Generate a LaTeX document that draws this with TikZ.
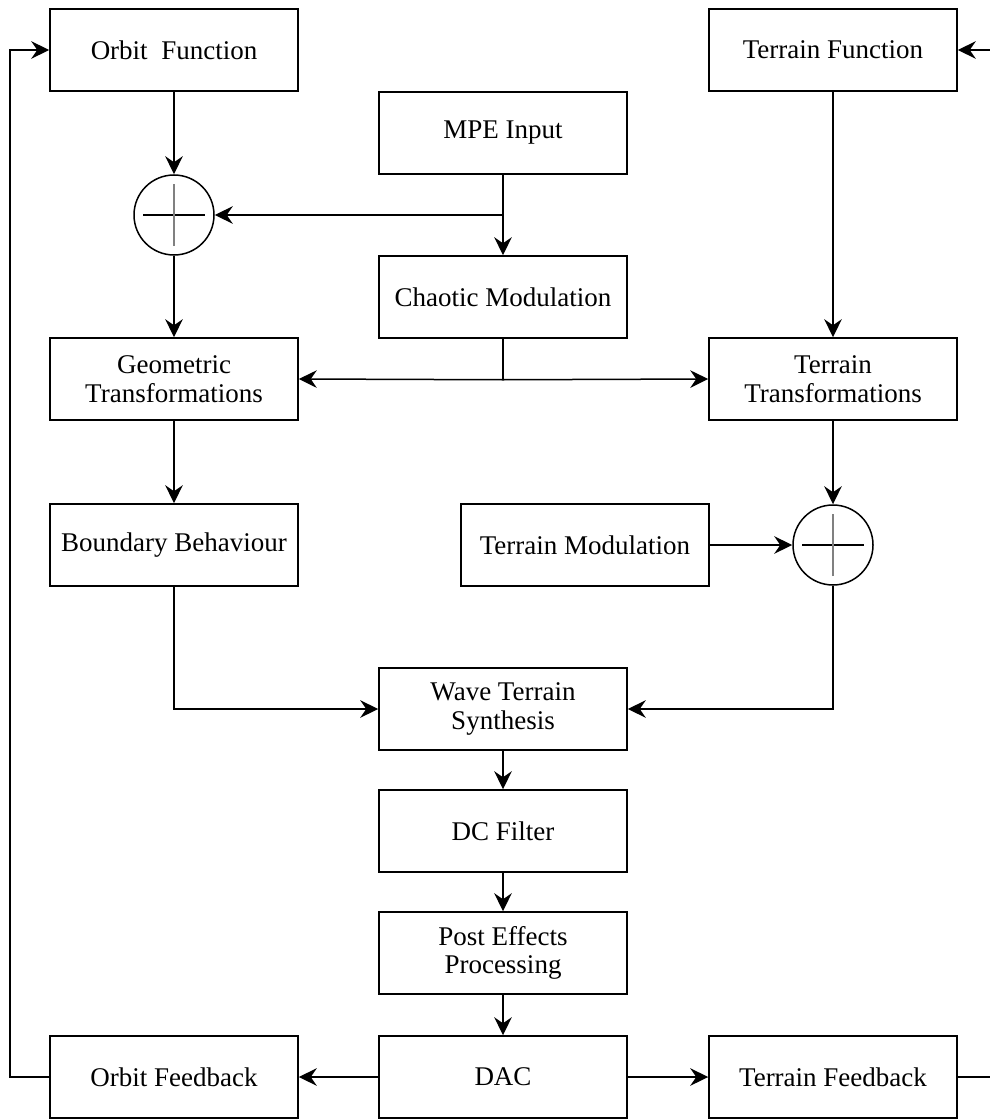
\documentclass[tikz,border=0pt]{standalone}
\usepackage{fontspec}
\setmainfont{Liberation Serif}
\usetikzlibrary{arrows.meta}

\begin{document}
\begin{tikzpicture}[x=0.4pt, y=-0.4pt,
    >={Stealth[length=7.2pt,width=7pt,inset=2.4pt]},
    every path/.style={line width=0.6pt},
    block/.style={draw, rectangle, minimum width=99.2pt, minimum height=32.8pt,
      inner sep=0pt, align=center, font=\fontsize{10.8pt}{11.4pt}\selectfont},
    sumnode/.style={draw, circle, minimum size=32pt, inner sep=0pt}]
  \useasboundingbox (0,0) rectangle (990,1119);

  % top row
  \node [block] (orbit)   at (174,50)  {Orbit\ \ Function};
  \node [block] (terrfn)  at (833,50)  {Terrain Function};
  \node [block] (mpe)     at (503,133) {MPE Input};
  \node [sumnode] (sumL)  at (174,215) {};
  \node [block] (chaotic) at (503,297) {Chaotic Modulation};

  % transformations
  \node [block] (geom)    at (174,379) {Geometric\\Transformations};
  \node [block] (ttrans)  at (833,379) {Terrain\\Transformations};
  \node [block] (boundary) at (174,545) {Boundary Behaviour};
  \node [block] (terrmod) at (585,545) {Terrain Modulation};
  \node [sumnode] (sumR)  at (833,545) {};

  % synthesis chain
  \node [block] (wave)    at (503,709)  {Wave Terrain\\Synthesis};
  \node [block] (dc)      at (503,831)  {DC Filter};
  \node [block] (post)    at (503,953)  {Post Effects\\Processing};
  \node [block] (dac)     at (503,1077) {DAC};
  \node [block] (orbitfb) at (174,1077) {Orbit Feedback};
  \node [block] (terrfb)  at (833,1077) {Terrain Feedback};

  % plus signs
  \foreach \s in {sumL,sumR} {
    \draw [line width=0.7pt] ([xshift=-12.4pt]\s.center) -- ([xshift=12.4pt]\s.center);
    \draw [gray, line width=0.9pt] ([yshift=-12.4pt]\s.center) -- ([yshift=12.4pt]\s.center);
  }

  \coordinate (mpeSplit) at (503,215);
  \coordinate (fbL) at (10,1077);
  \coordinate (fbR) at (996,1077);

  \draw [->] (orbit) -- (sumL);
  \draw [->] (mpe) -- (chaotic);
  \draw [->] (mpeSplit) -- (sumL.east);
  \draw [->] (sumL) -- (geom);
  \draw (chaotic.south) -- ++(0,41) coordinate (chSplit);
  \draw [->] (chSplit) -- (geom.east);
  \draw [->] (chSplit) -- (ttrans.west);
  \draw [->] (terrfn) -- (ttrans);
  \draw [->] (geom) -- (boundary);
  \draw [->] (ttrans) -- (sumR);
  \draw [->] (terrmod) -- (sumR);
  \draw [->] (boundary.south) |- (wave.west);
  \draw [->] (sumR.south) |- (wave.east);
  \draw [->] (wave) -- (dc);
  \draw [->] (dc) -- (post);
  \draw [->] (post) -- (dac);
  \draw [->] (dac) -- (orbitfb);
  \draw [->] (dac) -- (terrfb);
  \draw [->] (orbitfb.west) -- (fbL) |- (orbit.west);
  \draw [->] (terrfb.east) -- (fbR) |- (terrfn.east);
\end{tikzpicture}
\end{document}
